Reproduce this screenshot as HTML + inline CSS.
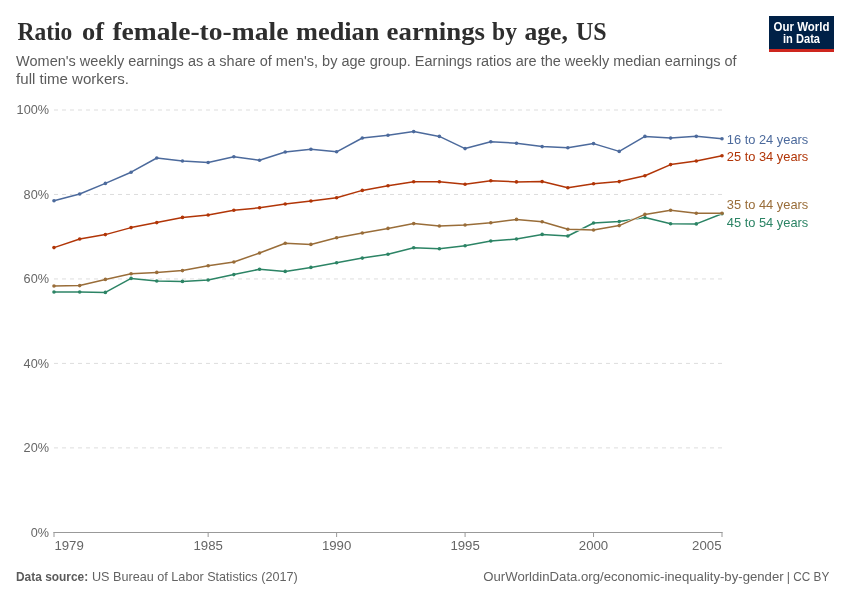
<!DOCTYPE html>
<html><head><meta charset="utf-8"><title>Ratio of female-to-male median earnings by age, US</title>
<style>
html,body{margin:0;padding:0;background:#fff;}
body{width:850px;height:600px;overflow:hidden;font-family:"Liberation Sans",sans-serif;}
svg{display:block;}
svg text{font-family:"Liberation Sans",sans-serif;}
svg text.serif{font-family:"Liberation Serif",serif;}
</style></head><body>
<svg width="850" height="600" viewBox="0 0 850 600" style="will-change:transform">
<text class="serif" x="17.50" y="40.0" font-size="26" font-weight="700" fill="#2e2e2e" textLength="54.90" lengthAdjust="spacingAndGlyphs">Ratio</text>
<text class="serif" x="82.10" y="40.0" font-size="26" font-weight="700" fill="#2e2e2e" textLength="22.00" lengthAdjust="spacingAndGlyphs">of</text>
<text class="serif" x="112.40" y="40.0" font-size="26" font-weight="700" fill="#2e2e2e" textLength="176.00" lengthAdjust="spacingAndGlyphs">female-to-male</text>
<text class="serif" x="296.10" y="40.0" font-size="26" font-weight="700" fill="#2e2e2e" textLength="83.30" lengthAdjust="spacingAndGlyphs">median</text>
<text class="serif" x="386.60" y="40.0" font-size="26" font-weight="700" fill="#2e2e2e" textLength="98.40" lengthAdjust="spacingAndGlyphs">earnings</text>
<text class="serif" x="492.10" y="40.0" font-size="26" font-weight="700" fill="#2e2e2e" textLength="24.90" lengthAdjust="spacingAndGlyphs">by</text>
<text class="serif" x="524.50" y="40.0" font-size="26" font-weight="700" fill="#2e2e2e" textLength="43.40" lengthAdjust="spacingAndGlyphs">age,</text>
<text class="serif" x="576.10" y="40.0" font-size="26" font-weight="700" fill="#2e2e2e" textLength="30.60" lengthAdjust="spacingAndGlyphs">US</text>
<text x="16.1" y="66.2" font-size="14" fill="#5b5b5b" textLength="720.5" lengthAdjust="spacingAndGlyphs">Women's weekly earnings as a share of men's, by age group. Earnings ratios are the weekly median earnings of</text>
<text x="16.1" y="84.2" font-size="14" fill="#5b5b5b" textLength="112.9" lengthAdjust="spacingAndGlyphs">full time workers.</text>
<g>
<rect x="769" y="16" width="65" height="36" fill="#002147"/>
<rect x="769" y="49" width="65" height="3" fill="#ce261e"/>
<text x="801.5" y="30.7" font-size="12.4" font-weight="700" fill="#ffffff" text-anchor="middle" textLength="55.8" lengthAdjust="spacingAndGlyphs">Our World</text>
<text x="801.5" y="42.8" font-size="12.4" font-weight="700" fill="#ffffff" text-anchor="middle" textLength="37.0" lengthAdjust="spacingAndGlyphs">in Data</text>
</g>
<g stroke="#dddddd" stroke-width="1" stroke-dasharray="4,4" fill="none">
<line x1="54.0" y1="447.88" x2="722.0" y2="447.88"/>
<line x1="54.0" y1="363.41" x2="722.0" y2="363.41"/>
<line x1="54.0" y1="278.94" x2="722.0" y2="278.94"/>
<line x1="54.0" y1="194.47" x2="722.0" y2="194.47"/>
<line x1="54.0" y1="110.00" x2="722.0" y2="110.00"/>
</g>
<g font-size="13.6" fill="#666666" text-anchor="end">
<text x="49.0" y="536.60" textLength="18.3" lengthAdjust="spacingAndGlyphs">0%</text>
<text x="49.0" y="452.13" textLength="25.4" lengthAdjust="spacingAndGlyphs">20%</text>
<text x="49.0" y="367.66" textLength="25.4" lengthAdjust="spacingAndGlyphs">40%</text>
<text x="49.0" y="283.19" textLength="25.4" lengthAdjust="spacingAndGlyphs">60%</text>
<text x="49.0" y="198.72" textLength="25.4" lengthAdjust="spacingAndGlyphs">80%</text>
<text x="49.0" y="114.25" textLength="32.4" lengthAdjust="spacingAndGlyphs">100%</text>
</g>
<g stroke="#999999" stroke-width="1" fill="none">
<line x1="53.5" y1="532.5" x2="722.5" y2="532.5"/>
<line x1="54.00" y1="532" x2="54.00" y2="537"/>
<line x1="208.15" y1="532" x2="208.15" y2="537"/>
<line x1="336.62" y1="532" x2="336.62" y2="537"/>
<line x1="465.08" y1="532" x2="465.08" y2="537"/>
<line x1="593.54" y1="532" x2="593.54" y2="537"/>
<line x1="722.00" y1="532" x2="722.00" y2="537"/>
</g>
<g font-size="13.6" fill="#666666">
<text x="54.40" y="550.45" text-anchor="start" textLength="29.4" lengthAdjust="spacingAndGlyphs">1979</text>
<text x="208.15" y="550.45" text-anchor="middle" textLength="29.4" lengthAdjust="spacingAndGlyphs">1985</text>
<text x="336.62" y="550.45" text-anchor="middle" textLength="29.4" lengthAdjust="spacingAndGlyphs">1990</text>
<text x="465.08" y="550.45" text-anchor="middle" textLength="29.4" lengthAdjust="spacingAndGlyphs">1995</text>
<text x="593.54" y="550.45" text-anchor="middle" textLength="29.4" lengthAdjust="spacingAndGlyphs">2000</text>
<text x="721.50" y="550.45" text-anchor="end" textLength="29.4" lengthAdjust="spacingAndGlyphs">2005</text>
</g>
<g>
<path d="M54.00,292.00 L79.69,292.00 L105.38,292.40 L131.08,278.40 L156.77,281.00 L182.46,281.40 L208.15,280.00 L233.85,274.60 L259.54,269.20 L285.23,271.40 L310.92,267.40 L336.62,262.80 L362.31,258.10 L388.00,254.20 L413.69,247.80 L439.38,248.80 L465.08,245.80 L490.77,241.00 L516.46,239.00 L542.15,234.40 L567.85,236.00 L593.54,223.00 L619.23,221.60 L644.92,217.55 L670.62,223.80 L696.31,223.90 L722.00,213.70" fill="none" stroke="#ffffff" stroke-width="2.5" stroke-linejoin="round" stroke-linecap="butt"/>
<path d="M54.00,292.00 L79.69,292.00 L105.38,292.40 L131.08,278.40 L156.77,281.00 L182.46,281.40 L208.15,280.00 L233.85,274.60 L259.54,269.20 L285.23,271.40 L310.92,267.40 L336.62,262.80 L362.31,258.10 L388.00,254.20 L413.69,247.80 L439.38,248.80 L465.08,245.80 L490.77,241.00 L516.46,239.00 L542.15,234.40 L567.85,236.00 L593.54,223.00 L619.23,221.60 L644.92,217.55 L670.62,223.80 L696.31,223.90 L722.00,213.70" fill="none" stroke="#2C8465" stroke-width="1.5" stroke-linejoin="round"/>
<g fill="#2C8465">
<circle cx="54.00" cy="292.00" r="1.8"/>
<circle cx="79.69" cy="292.00" r="1.8"/>
<circle cx="105.38" cy="292.40" r="1.8"/>
<circle cx="131.08" cy="278.40" r="1.8"/>
<circle cx="156.77" cy="281.00" r="1.8"/>
<circle cx="182.46" cy="281.40" r="1.8"/>
<circle cx="208.15" cy="280.00" r="1.8"/>
<circle cx="233.85" cy="274.60" r="1.8"/>
<circle cx="259.54" cy="269.20" r="1.8"/>
<circle cx="285.23" cy="271.40" r="1.8"/>
<circle cx="310.92" cy="267.40" r="1.8"/>
<circle cx="336.62" cy="262.80" r="1.8"/>
<circle cx="362.31" cy="258.10" r="1.8"/>
<circle cx="388.00" cy="254.20" r="1.8"/>
<circle cx="413.69" cy="247.80" r="1.8"/>
<circle cx="439.38" cy="248.80" r="1.8"/>
<circle cx="465.08" cy="245.80" r="1.8"/>
<circle cx="490.77" cy="241.00" r="1.8"/>
<circle cx="516.46" cy="239.00" r="1.8"/>
<circle cx="542.15" cy="234.40" r="1.8"/>
<circle cx="567.85" cy="236.00" r="1.8"/>
<circle cx="593.54" cy="223.00" r="1.8"/>
<circle cx="619.23" cy="221.60" r="1.8"/>
<circle cx="644.92" cy="217.55" r="1.8"/>
<circle cx="670.62" cy="223.80" r="1.8"/>
<circle cx="696.31" cy="223.90" r="1.8"/>
<circle cx="722.00" cy="213.70" r="1.8"/>
</g></g>
<g>
<path d="M54.00,286.00 L79.69,285.60 L105.38,279.40 L131.08,273.80 L156.77,272.40 L182.46,270.60 L208.15,265.70 L233.85,262.00 L259.54,253.00 L285.23,243.20 L310.92,244.40 L336.62,237.80 L362.31,233.00 L388.00,228.40 L413.69,223.60 L439.38,226.00 L465.08,225.00 L490.77,222.80 L516.46,219.40 L542.15,221.80 L567.85,229.20 L593.54,230.00 L619.23,225.60 L644.92,214.40 L670.62,210.30 L696.31,213.20 L722.00,213.20" fill="none" stroke="#ffffff" stroke-width="2.5" stroke-linejoin="round" stroke-linecap="butt"/>
<path d="M54.00,286.00 L79.69,285.60 L105.38,279.40 L131.08,273.80 L156.77,272.40 L182.46,270.60 L208.15,265.70 L233.85,262.00 L259.54,253.00 L285.23,243.20 L310.92,244.40 L336.62,237.80 L362.31,233.00 L388.00,228.40 L413.69,223.60 L439.38,226.00 L465.08,225.00 L490.77,222.80 L516.46,219.40 L542.15,221.80 L567.85,229.20 L593.54,230.00 L619.23,225.60 L644.92,214.40 L670.62,210.30 L696.31,213.20 L722.00,213.20" fill="none" stroke="#996D39" stroke-width="1.5" stroke-linejoin="round"/>
<g fill="#996D39">
<circle cx="54.00" cy="286.00" r="1.8"/>
<circle cx="79.69" cy="285.60" r="1.8"/>
<circle cx="105.38" cy="279.40" r="1.8"/>
<circle cx="131.08" cy="273.80" r="1.8"/>
<circle cx="156.77" cy="272.40" r="1.8"/>
<circle cx="182.46" cy="270.60" r="1.8"/>
<circle cx="208.15" cy="265.70" r="1.8"/>
<circle cx="233.85" cy="262.00" r="1.8"/>
<circle cx="259.54" cy="253.00" r="1.8"/>
<circle cx="285.23" cy="243.20" r="1.8"/>
<circle cx="310.92" cy="244.40" r="1.8"/>
<circle cx="336.62" cy="237.80" r="1.8"/>
<circle cx="362.31" cy="233.00" r="1.8"/>
<circle cx="388.00" cy="228.40" r="1.8"/>
<circle cx="413.69" cy="223.60" r="1.8"/>
<circle cx="439.38" cy="226.00" r="1.8"/>
<circle cx="465.08" cy="225.00" r="1.8"/>
<circle cx="490.77" cy="222.80" r="1.8"/>
<circle cx="516.46" cy="219.40" r="1.8"/>
<circle cx="542.15" cy="221.80" r="1.8"/>
<circle cx="567.85" cy="229.20" r="1.8"/>
<circle cx="593.54" cy="230.00" r="1.8"/>
<circle cx="619.23" cy="225.60" r="1.8"/>
<circle cx="644.92" cy="214.40" r="1.8"/>
<circle cx="670.62" cy="210.30" r="1.8"/>
<circle cx="696.31" cy="213.20" r="1.8"/>
<circle cx="722.00" cy="213.20" r="1.8"/>
</g></g>
<g>
<path d="M54.00,247.60 L79.69,239.00 L105.38,234.60 L131.08,227.60 L156.77,222.60 L182.46,217.40 L208.15,215.00 L233.85,210.20 L259.54,207.80 L285.23,204.00 L310.92,201.00 L336.62,197.80 L362.31,190.40 L388.00,185.80 L413.69,181.80 L439.38,181.80 L465.08,184.20 L490.77,180.80 L516.46,181.90 L542.15,181.60 L567.85,187.80 L593.54,183.80 L619.23,181.60 L644.92,175.75 L670.62,164.60 L696.31,161.00 L722.00,155.80" fill="none" stroke="#ffffff" stroke-width="2.5" stroke-linejoin="round" stroke-linecap="butt"/>
<path d="M54.00,247.60 L79.69,239.00 L105.38,234.60 L131.08,227.60 L156.77,222.60 L182.46,217.40 L208.15,215.00 L233.85,210.20 L259.54,207.80 L285.23,204.00 L310.92,201.00 L336.62,197.80 L362.31,190.40 L388.00,185.80 L413.69,181.80 L439.38,181.80 L465.08,184.20 L490.77,180.80 L516.46,181.90 L542.15,181.60 L567.85,187.80 L593.54,183.80 L619.23,181.60 L644.92,175.75 L670.62,164.60 L696.31,161.00 L722.00,155.80" fill="none" stroke="#B13507" stroke-width="1.5" stroke-linejoin="round"/>
<g fill="#B13507">
<circle cx="54.00" cy="247.60" r="1.8"/>
<circle cx="79.69" cy="239.00" r="1.8"/>
<circle cx="105.38" cy="234.60" r="1.8"/>
<circle cx="131.08" cy="227.60" r="1.8"/>
<circle cx="156.77" cy="222.60" r="1.8"/>
<circle cx="182.46" cy="217.40" r="1.8"/>
<circle cx="208.15" cy="215.00" r="1.8"/>
<circle cx="233.85" cy="210.20" r="1.8"/>
<circle cx="259.54" cy="207.80" r="1.8"/>
<circle cx="285.23" cy="204.00" r="1.8"/>
<circle cx="310.92" cy="201.00" r="1.8"/>
<circle cx="336.62" cy="197.80" r="1.8"/>
<circle cx="362.31" cy="190.40" r="1.8"/>
<circle cx="388.00" cy="185.80" r="1.8"/>
<circle cx="413.69" cy="181.80" r="1.8"/>
<circle cx="439.38" cy="181.80" r="1.8"/>
<circle cx="465.08" cy="184.20" r="1.8"/>
<circle cx="490.77" cy="180.80" r="1.8"/>
<circle cx="516.46" cy="181.90" r="1.8"/>
<circle cx="542.15" cy="181.60" r="1.8"/>
<circle cx="567.85" cy="187.80" r="1.8"/>
<circle cx="593.54" cy="183.80" r="1.8"/>
<circle cx="619.23" cy="181.60" r="1.8"/>
<circle cx="644.92" cy="175.75" r="1.8"/>
<circle cx="670.62" cy="164.60" r="1.8"/>
<circle cx="696.31" cy="161.00" r="1.8"/>
<circle cx="722.00" cy="155.80" r="1.8"/>
</g></g>
<g>
<path d="M54.00,200.70 L79.69,194.00 L105.38,183.40 L131.08,172.20 L156.77,158.00 L182.46,161.00 L208.15,162.50 L233.85,156.80 L259.54,160.20 L285.23,152.00 L310.92,149.20 L336.62,151.80 L362.31,138.00 L388.00,135.20 L413.69,131.60 L439.38,136.40 L465.08,148.60 L490.77,141.80 L516.46,143.20 L542.15,146.60 L567.85,147.80 L593.54,143.60 L619.23,151.40 L644.92,136.40 L670.62,138.10 L696.31,136.35 L722.00,138.80" fill="none" stroke="#ffffff" stroke-width="2.5" stroke-linejoin="round" stroke-linecap="butt"/>
<path d="M54.00,200.70 L79.69,194.00 L105.38,183.40 L131.08,172.20 L156.77,158.00 L182.46,161.00 L208.15,162.50 L233.85,156.80 L259.54,160.20 L285.23,152.00 L310.92,149.20 L336.62,151.80 L362.31,138.00 L388.00,135.20 L413.69,131.60 L439.38,136.40 L465.08,148.60 L490.77,141.80 L516.46,143.20 L542.15,146.60 L567.85,147.80 L593.54,143.60 L619.23,151.40 L644.92,136.40 L670.62,138.10 L696.31,136.35 L722.00,138.80" fill="none" stroke="#4C6A9C" stroke-width="1.5" stroke-linejoin="round"/>
<g fill="#4C6A9C">
<circle cx="54.00" cy="200.70" r="1.8"/>
<circle cx="79.69" cy="194.00" r="1.8"/>
<circle cx="105.38" cy="183.40" r="1.8"/>
<circle cx="131.08" cy="172.20" r="1.8"/>
<circle cx="156.77" cy="158.00" r="1.8"/>
<circle cx="182.46" cy="161.00" r="1.8"/>
<circle cx="208.15" cy="162.50" r="1.8"/>
<circle cx="233.85" cy="156.80" r="1.8"/>
<circle cx="259.54" cy="160.20" r="1.8"/>
<circle cx="285.23" cy="152.00" r="1.8"/>
<circle cx="310.92" cy="149.20" r="1.8"/>
<circle cx="336.62" cy="151.80" r="1.8"/>
<circle cx="362.31" cy="138.00" r="1.8"/>
<circle cx="388.00" cy="135.20" r="1.8"/>
<circle cx="413.69" cy="131.60" r="1.8"/>
<circle cx="439.38" cy="136.40" r="1.8"/>
<circle cx="465.08" cy="148.60" r="1.8"/>
<circle cx="490.77" cy="141.80" r="1.8"/>
<circle cx="516.46" cy="143.20" r="1.8"/>
<circle cx="542.15" cy="146.60" r="1.8"/>
<circle cx="567.85" cy="147.80" r="1.8"/>
<circle cx="593.54" cy="143.60" r="1.8"/>
<circle cx="619.23" cy="151.40" r="1.8"/>
<circle cx="644.92" cy="136.40" r="1.8"/>
<circle cx="670.62" cy="138.10" r="1.8"/>
<circle cx="696.31" cy="136.35" r="1.8"/>
<circle cx="722.00" cy="138.80" r="1.8"/>
</g></g>
<g font-size="13.2">
<text x="726.8" y="143.8" fill="#4C6A9C" textLength="81.5" lengthAdjust="spacingAndGlyphs">16 to 24 years</text>
<text x="726.8" y="160.6" fill="#B13507" textLength="81.5" lengthAdjust="spacingAndGlyphs">25 to 34 years</text>
<text x="726.8" y="209.4" fill="#996D39" textLength="81.5" lengthAdjust="spacingAndGlyphs">35 to 44 years</text>
<text x="726.8" y="227.4" fill="#2C8465" textLength="81.5" lengthAdjust="spacingAndGlyphs">45 to 54 years</text>
</g>
<text x="16.0" y="580.8" font-size="12.4" font-weight="700" fill="#5b5b5b" textLength="72.2" lengthAdjust="spacingAndGlyphs">Data source:</text>
<text x="92.0" y="580.8" font-size="12.4" fill="#636363" textLength="205.7" lengthAdjust="spacingAndGlyphs">US Bureau of Labor Statistics (2017)</text>
<text x="483.3" y="580.8" font-size="12.4" fill="#636363" textLength="300.3" lengthAdjust="spacingAndGlyphs">OurWorldinData.org/economic-inequality-by-gender</text>
<text x="788.3" y="580.8" font-size="12.4" fill="#636363" text-anchor="middle">|</text>
<text x="793.3" y="580.8" font-size="12.4" fill="#636363" textLength="36.0" lengthAdjust="spacingAndGlyphs">CC BY</text>
</svg>
</body></html>
